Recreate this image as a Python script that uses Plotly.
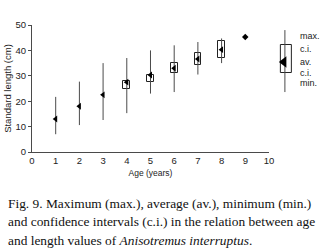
import plotly.graph_objects as go

# ---- data ----
ages = [1, 2, 3, 4, 5, 6, 7, 8]
len_max = [21.7, 27.7, 35.0, 37.0, 40.0, 42.0, 43.3, 44.7]
len_min = [7.0, 10.6, 12.6, 15.3, 23.0, 23.6, 30.5, 35.0]
len_avg = [13.0, 18.0, 22.5, 27.5, 30.3, 33.0, 36.6, 40.3]

ci_ages = [4, 5, 6, 7, 8]
ci_high = [28.0, 30.5, 35.0, 39.0, 43.7]
ci_low = [24.8, 27.6, 31.3, 34.3, 37.0]

single_age = [9]
single_len = [45.3]

x_ticks = [0, 1, 2, 3, 4, 5, 6, 7, 8, 9, 10]
y_ticks = [0, 10, 20, 30, 40, 50]

# key (legend) values
key_max, key_ci_high, key_av, key_ci_low, key_min = 48.0, 42.1, 35.4, 31.1, 23.6
key_labels = ["max.", "c.i.", "av.", "c.i.", "min."]
key_label_y = [45.7, 40.6, 35.4, 31.1, 27.2]

caption = [
    "Fig. 9. Maximum (max.), average (av.), minimum (min.)",
    "and confidence intervals (c.i.) in the relation between age",
    "and length values of <i>Anisotremus interruptus</i>.",
]

INK = "#222222"
LINE = "#4a4a4a"

fig = go.Figure()

# min-max vertical lines
wx, wy = [], []
for a, lo, hi in zip(ages, len_min, len_max):
    wx += [a, a, None]
    wy += [lo, hi, None]
fig.add_trace(go.Scatter(x=wx, y=wy, mode="lines",
                         line=dict(color=LINE, width=1), hoverinfo="skip"))

# confidence interval boxes
fig.add_trace(go.Bar(x=ci_ages, base=ci_low,
                     y=[h - l for h, l in zip(ci_high, ci_low)],
                     width=0.28, marker=dict(color="white",
                                             line=dict(color=INK, width=1))))

# averages
fig.add_trace(go.Scatter(x=ages, y=len_avg, mode="markers",
                         marker=dict(symbol="triangle-left", size=6, color="black")))
fig.add_trace(go.Scatter(x=single_age, y=single_len, mode="markers",
                         marker=dict(symbol="diamond", size=5, color="black")))

# key on a separate small axis
fig.add_trace(go.Scatter(x=[13, 13], y=[key_min, key_max], mode="lines",
                         xaxis="x2", yaxis="y",
                         line=dict(color=LINE, width=1), hoverinfo="skip"))
fig.add_trace(go.Bar(x=[14.5], base=[key_ci_low], y=[key_ci_high - key_ci_low],
                     width=11, xaxis="x2", yaxis="y",
                     marker=dict(color="white", line=dict(color=INK, width=1))))
fig.add_trace(go.Scatter(x=[12], y=[key_av], mode="markers", xaxis="x2", yaxis="y",
                         marker=dict(symbol="triangle-left", size=10, color="black")))

annotations = []
for lab, yy in zip(key_labels, key_label_y):
    annotations.append(dict(x=26, y=yy, xref="x2", yref="y", text=lab,
                            showarrow=False, xanchor="left", yanchor="middle",
                            font=dict(family="Liberation Sans", size=9, color=INK)))

# caption lines
PLOT_L, PLOT_W = 32, 289
plot_top, plot_bottom = 25, 152
cap_y_px = [203, 221.5, 240]
for txt, ypx in zip(caption, cap_y_px):
    annotations.append(dict(x=(6 - PLOT_L) / PLOT_W,
                            y=(plot_bottom - ypx) / (plot_bottom - plot_top),
                            xref="paper", yref="paper", text=txt, showarrow=False,
                            xanchor="left", yanchor="middle",
                            font=dict(family="Liberation Serif", size=13.4, color="#111111")))

fig.update_layout(
    width=321, height=250, autosize=False,
    margin=dict(l=PLOT_L, r=0, t=25, b=98, autoexpand=False),
    paper_bgcolor="white", plot_bgcolor="white",
    showlegend=False, bargap=0,
    font=dict(family="Liberation Sans", size=9.5, color=INK),
    annotations=annotations,
    xaxis=dict(domain=[0, 0.82], range=[0, 10], tickvals=x_ticks,
               showline=True, linecolor=LINE, linewidth=1, ticks="",
               showgrid=False, zeroline=False,
               tickfont=dict(size=9.5),
               title=dict(text="Age (years)", font=dict(size=8.5), standoff=4)),
    xaxis2=dict(domain=[0.83, 1.0], range=[0, 49], anchor="y", visible=False),
    yaxis=dict(range=[0, 50], tickvals=y_ticks,
               showline=True, linecolor=LINE, linewidth=1,
               ticks="outside", ticklen=3, tickcolor=LINE,
               showgrid=False, zeroline=False,
               tickfont=dict(size=9.5),
               title=dict(text="Standard length (cm)", font=dict(size=9.5), standoff=2)),
)

fig.write_html("out.html", config={"displayModeBar": False},
               post_script="document.body.style.margin='0';document.body.style.overflow='hidden';")
